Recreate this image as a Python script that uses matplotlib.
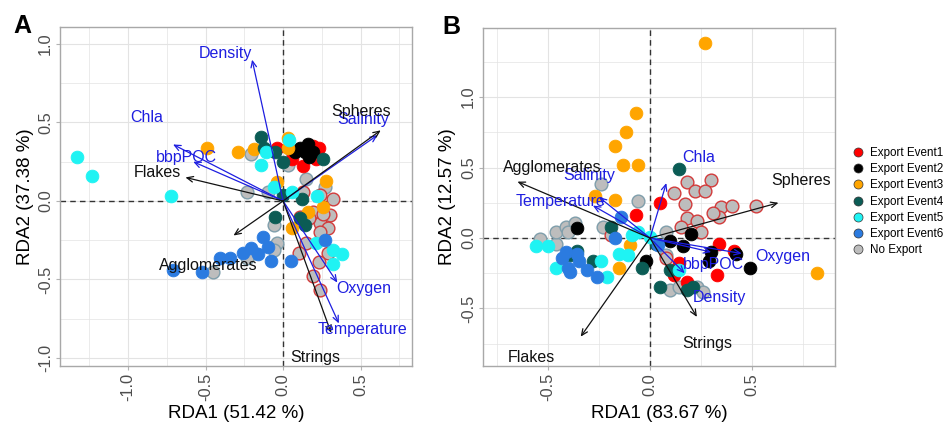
import matplotlib
matplotlib.use("Agg")
import matplotlib.pyplot as plt
from matplotlib.lines import Line2D
from matplotlib.ticker import MultipleLocator

plt.rcParams["font.family"] = ["Liberation Sans", "DejaVu Sans"]

# ---------------------------------------------------------------- groups
GROUPS = ["Export Event1", "Export Event2", "Export Event3", "Export Event4",
          "Export Event5", "Export Event6", "No Export"]
GROUP_COLORS = ["#ff0000", "#000000", "#ffa500", "#0b5c55",
                "#1ff3f3", "#2b7be0", "#bdbdbd"]

# ---------------------------------------------------------------- panel A: site scores
A_EVENT1 = [(-0.04, 0.34), (0.19, 0.35), (0.23, 0.34), (0.13, 0.22), (0.06, 0.27),
            (0.21, 0.27)]
A_EVENT2 = [(0.11, 0.34), (0.14, 0.31), (0.16, 0.36), (0.19, 0.31), (0.08, 0.31),
            (0.17, 0.28)]
A_EVENT3 = [(-0.49, 0.34), (-0.29, 0.31), (-0.19, 0.33), (0.03, 0.40), (0.03, 0.34),
            (-0.04, 0.12), (0.28, 0.13), (0.16, -0.07), (0.26, -0.04), (0.06, -0.17)]
A_EVENT4 = [(-0.14, 0.41), (-0.12, 0.34), (-0.05, 0.31), (0.00, 0.25), (0.26, 0.27),
            (0.00, 0.04), (0.12, 0.01), (-0.05, -0.10), (0.11, -0.11), (0.14, -0.15)]
A_EVENT5 = [(-1.33, 0.28), (-1.23, 0.16), (-0.72, 0.03), (-0.11, 0.31), (-0.14, 0.23),
            (0.04, 0.39), (-0.06, 0.09), (0.06, 0.06), (0.22, 0.03), (0.21, -0.27),
            (0.32, -0.31), (0.38, -0.34), (0.32, -0.40)]
A_EVENT6 = [(-0.71, -0.44), (-0.52, -0.45), (-0.41, -0.36), (-0.34, -0.36),
            (-0.26, -0.33), (-0.21, -0.30), (-0.16, -0.34), (-0.13, -0.23),
            (-0.10, -0.29), (-0.08, -0.38), (0.05, -0.38), (0.27, -0.25)]
A_NO_EXPORT = [(-0.21, 0.30), (0.03, 0.23), (0.06, 0.31), (-0.23, 0.06), (-0.10, 0.06),
               (0.15, 0.14), (0.27, 0.09), (-0.06, -0.15), (-0.04, -0.27),
               (-0.06, -0.31), (-0.19, -0.33), (-0.23, -0.36), (-0.45, -0.45)]
A_NO_EXPORT_RIM = [(0.32, 0.01), (0.13, 0.06), (0.24, 0.04), (0.30, -0.09),
                   (0.24, -0.14), (0.11, -0.10), (0.19, -0.07), (0.26, -0.08),
                   (0.29, -0.17), (0.24, -0.20), (0.15, -0.27), (0.29, -0.33),
                   (0.10, -0.33), (0.23, -0.39), (0.19, -0.48), (0.24, -0.57),
                   (0.17, -0.11)]

# ---------------------------------------------------------------- panel A: biplot arrows
A_ENV = ["Density", "Chla", "bbpPOC", "Salinity", "Oxygen", "Temperature"]
A_ENV_X = [-0.20, -0.71, -0.58, 0.61, 0.35, 0.36]
A_ENV_Y = [0.90, 0.36, 0.25, 0.42, -0.52, -0.78]
A_ENV_TEXT_X = [-0.37, -0.88, -0.62, 0.52, 0.52, 0.51]
A_ENV_TEXT_Y = [0.94, 0.53, 0.28, 0.52, -0.56, -0.82]

A_SHAPE = ["Spheres", "Flakes", "Agglomerates", "Strings"]
A_SHAPE_X = [0.63, -0.63, -0.32, 0.31]
A_SHAPE_Y = [0.45, 0.15, -0.22, -0.84]
A_SHAPE_TEXT_X = [0.50, -0.81, -0.48, 0.21]
A_SHAPE_TEXT_Y = [0.57, 0.18, -0.41, -1.00]

# ---------------------------------------------------------------- panel B: site scores
B_EVENT1 = [(0.05, 0.25), (-0.07, 0.16), (0.34, -0.04), (0.41, -0.09), (0.33, -0.26),
            (0.14, -0.18), (0.18, -0.31), (0.12, -0.26)]
B_EVENT2 = [(0.42, -0.11), (0.49, -0.21), (0.30, -0.10), (0.29, -0.16), (0.16, -0.06),
            (0.20, 0.03), (0.10, -0.02), (-0.36, 0.07), (-0.02, -0.16)]
B_EVENT3 = [(0.27, 1.38), (-0.07, 0.89), (-0.12, 0.75), (-0.17, 0.65), (-0.13, 0.52),
            (-0.06, 0.52), (-0.27, 0.30), (-0.17, 0.27), (-0.10, -0.05), (-0.15, -0.21),
            (0.82, -0.25)]
B_EVENT4 = [(0.14, 0.49), (0.10, -0.23), (0.05, -0.35), (0.18, -0.37), (-0.19, 0.08),
            (-0.36, -0.09), (-0.39, -0.12), (-0.28, -0.16), (-0.04, -0.21),
            (0.03, -0.04), (0.21, -0.35)]
B_EVENT5 = [(0.14, -0.23), (-0.56, -0.06), (-0.50, -0.06), (-0.46, -0.21),
            (-0.24, -0.16), (-0.21, -0.28), (-0.15, -0.11), (-0.11, -0.12),
            (-0.09, 0.02), (-0.06, 0.04), (0.00, 0.01)]
B_EVENT6 = [(-0.41, -0.10), (-0.36, -0.11), (-0.35, -0.16), (-0.31, -0.23),
            (-0.26, -0.28), (-0.39, -0.24), (-0.43, -0.14), (-0.40, -0.21),
            (-0.14, 0.15), (-0.17, 0.00), (0.04, -0.05)]
B_NO_EXPORT = [(-0.24, 0.38), (-0.06, 0.26), (-0.23, 0.08), (-0.54, -0.01),
               (-0.46, -0.04), (-0.46, 0.04), (-0.41, 0.08), (-0.37, 0.11),
               (-0.40, 0.04), (0.08, -0.12), (0.10, -0.37), (0.14, -0.35),
               (0.23, -0.35), (0.26, -0.38), (0.08, 0.04)]
B_NO_EXPORT_RIM = [(0.18, 0.40), (0.30, 0.41), (0.22, 0.33), (0.27, 0.33), (0.12, 0.32),
                   (0.17, 0.24), (0.35, 0.22), (0.40, 0.23), (0.52, 0.23), (0.18, 0.14),
                   (0.23, 0.12), (0.34, 0.15), (0.25, 0.04), (0.15, 0.08), (0.31, 0.18),
                   (-0.19, 0.02), (0.08, -0.14)]

# ---------------------------------------------------------------- panel B: biplot arrows
B_ENV = ["Chla", "Salinity", "Temperature", "Oxygen", "bbpPOC", "Density"]
B_ENV_X = [0.08, -0.25, -0.28, 0.45, 0.30, 0.17]
B_ENV_Y = [0.39, 0.29, 0.23, -0.11, -0.10, -0.25]
B_ENV_TEXT_X = [0.24, -0.30, -0.44, 0.65, 0.31, 0.34]
B_ENV_TEXT_Y = [0.57, 0.44, 0.26, -0.13, -0.19, -0.42]

B_SHAPE = ["Spheres", "Agglomerates", "Flakes", "Strings"]
B_SHAPE_X = [0.63, -0.65, -0.34, 0.23]
B_SHAPE_Y = [0.25, 0.40, -0.70, -0.56]
B_SHAPE_TEXT_X = [0.74, -0.48, -0.58, 0.28]
B_SHAPE_TEXT_Y = [0.41, 0.50, -0.85, -0.75]

ENV_COLOR = "#1e1ee0"
SHAPE_COLOR = "#111111"
GRID_COLOR = "#e3e3e3"
TICK_COLOR = "#4d4d4d"
PT_SIZE = 84


def draw_panel(ax, events, no_export, no_export_rim,
               env, env_x, env_y, env_tx, env_ty,
               shp, shp_x, shp_y, shp_tx, shp_ty,
               xlim, ylim, xticks, yticks):
    ax.set_xlim(*xlim)
    ax.set_ylim(*ylim)
    ax.xaxis.set_minor_locator(MultipleLocator(0.25))
    ax.yaxis.set_minor_locator(MultipleLocator(0.25))
    ax.set_xticks(xticks)
    ax.set_yticks(yticks)
    ax.set_xticklabels([f"{v:.1f}" for v in xticks], rotation=90, va="top")
    ax.set_yticklabels([f"{v:.1f}" for v in yticks], rotation=90, va="center")
    ax.grid(True, which="major", color=GRID_COLOR, lw=0.8, zorder=0)
    ax.grid(True, which="minor", color=GRID_COLOR, lw=0.5, zorder=0)
    ax.set_axisbelow(True)
    ax.tick_params(which="major", length=3, color="#b3b3b3", labelsize=11.8,
                   labelcolor=TICK_COLOR, pad=2)
    ax.tick_params(which="minor", length=0)
    for s in ax.spines.values():
        s.set_color("#a8a8a8")
        s.set_linewidth(1.0)

    ax.axhline(0, color="#333333", ls=(0, (4, 3)), lw=1.0, zorder=1)
    ax.axvline(0, color="#333333", ls=(0, (4, 3)), lw=1.0, zorder=1)

    # grey samples first, then export events on top
    ax.scatter([p[0] for p in no_export], [p[1] for p in no_export], s=PT_SIZE,
               c=GROUP_COLORS[6], edgecolors="#7f9eab", linewidths=1.0, zorder=2)
    ax.scatter([p[0] for p in no_export_rim], [p[1] for p in no_export_rim], s=PT_SIZE,
               c=GROUP_COLORS[6], edgecolors="#d23a3a", linewidths=1.0, zorder=2)
    for pts, col in zip(events, GROUP_COLORS[:6]):
        ax.scatter([p[0] for p in pts], [p[1] for p in pts], s=PT_SIZE, c=col,
                   edgecolors=col, linewidths=0.6, zorder=3)

    arrow_style = "->,head_length=0.45,head_width=0.2"
    for name, x, y, tx, ty in zip(env, env_x, env_y, env_tx, env_ty):
        ax.annotate("", xy=(x, y), xytext=(0, 0),
                    arrowprops=dict(arrowstyle=arrow_style, color=ENV_COLOR, lw=0.9,
                                    shrinkA=0, shrinkB=0), zorder=4)
        ax.text(tx, ty, name, color=ENV_COLOR, fontsize=11.5, ha="center",
                va="center", zorder=5)
    for name, x, y, tx, ty in zip(shp, shp_x, shp_y, shp_tx, shp_ty):
        ax.annotate("", xy=(x, y), xytext=(0, 0),
                    arrowprops=dict(arrowstyle=arrow_style, color=SHAPE_COLOR, lw=0.9,
                                    shrinkA=0, shrinkB=0), zorder=4)
        ax.text(tx, ty, name, color=SHAPE_COLOR, fontsize=11.5, ha="center",
                va="center", zorder=5)


fig = plt.figure(figsize=(9.47, 4.24), dpi=100)
ax_a = fig.add_axes([0.0634, 0.1368, 0.3717, 0.7995])
ax_b = fig.add_axes([0.5100, 0.1368, 0.3717, 0.7972])

draw_panel(ax_a, [A_EVENT1, A_EVENT2, A_EVENT3, A_EVENT4, A_EVENT5, A_EVENT6],
           A_NO_EXPORT, A_NO_EXPORT_RIM,
           A_ENV, A_ENV_X, A_ENV_Y, A_ENV_TEXT_X, A_ENV_TEXT_Y,
           A_SHAPE, A_SHAPE_X, A_SHAPE_Y, A_SHAPE_TEXT_X, A_SHAPE_TEXT_Y,
           (-1.439, 0.832), (-1.051, 1.108), [-1.0, -0.5, 0.0, 0.5],
           [-1.0, -0.5, 0.0, 0.5, 1.0])
draw_panel(ax_b, [B_EVENT1, B_EVENT2, B_EVENT3, B_EVENT4, B_EVENT5, B_EVENT6],
           B_NO_EXPORT, B_NO_EXPORT_RIM,
           B_ENV, B_ENV_X, B_ENV_Y, B_ENV_TEXT_X, B_ENV_TEXT_Y,
           B_SHAPE, B_SHAPE_X, B_SHAPE_Y, B_SHAPE_TEXT_X, B_SHAPE_TEXT_Y,
           (-0.819, 0.907), (-0.908, 1.49), [-0.5, 0.0, 0.5],
           [-0.5, 0.0, 0.5, 1.0])

# axis titles
fig.text(236 / 947, 1 - 414 / 424, "RDA1 (51.42 %)", ha="center", va="center",
         fontsize=13.5)
fig.text(659 / 947, 1 - 414 / 424, "RDA1 (83.67 %)", ha="center", va="center",
         fontsize=13.5)
fig.text(25 / 947, 1 - 197 / 424, "RDA2 (37.38 %)", ha="center", va="center",
         fontsize=13.5, rotation=90)
fig.text(447 / 947, 1 - 197 / 424, "RDA2 (12.57 %)", ha="center", va="center",
         fontsize=13.5, rotation=90)

# panel tags
fig.text(22 / 947, 1 - 26 / 424, "A", ha="center", va="center", fontsize=18,
         fontweight="bold")
fig.text(451 / 947, 1 - 27 / 424, "B", ha="center", va="center", fontsize=18,
         fontweight="bold")

# legend
handles = [Line2D([], [], ls="none", marker="o", markersize=6.5,
                  markerfacecolor=c, markeredgecolor="#333333", markeredgewidth=0.5)
           for c in GROUP_COLORS]
fig.legend(handles, GROUPS, loc="upper left", bbox_to_anchor=(852 / 947, 1 - 147 / 424),
           frameon=False, fontsize=8.4, handlelength=1.0, handletextpad=0.5,
           labelspacing=0.36, borderpad=0, borderaxespad=0)

fig.savefig("out.png", dpi=100)
